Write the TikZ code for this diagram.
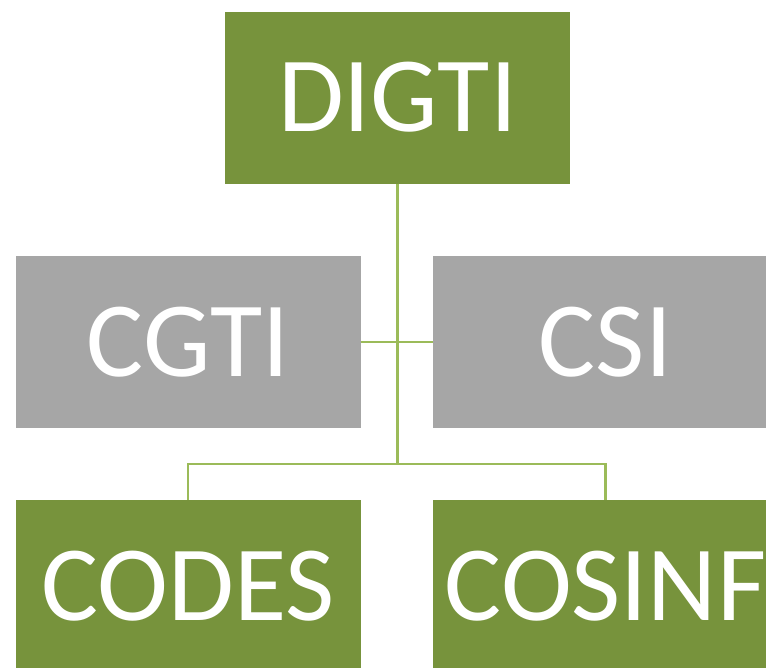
\documentclass[tikz,border=0pt]{standalone}
\usepackage{fontspec}
\setmainfont{Carlito}
\usetikzlibrary{positioning}
\definecolor{olivebox}{HTML}{77933C}
\definecolor{oliveline}{HTML}{9BBB59}
\definecolor{graybox}{HTML}{A6A6A6}
\tikzset{unit/.style={minimum width=345pt, minimum height=172pt, inner sep=0pt,
   text=white, font=\fontsize{107}{107}\selectfont},
 head/.style={unit, fill=olivebox},
 staff/.style={unit, fill=graybox},
 link/.style={draw=oliveline, line width=2.2pt},
 }

\begin{document}
\begin{tikzpicture}[x=1pt, y=1pt]
        \useasboundingbox (0,0) rectangle (766,-667);
        \clip (0,0) rectangle (766,-667);
        \node[head] (digti) at (397.5, -97.5) {DIGTI};
        \node[staff] (cgti) at (188, -342) {CGTI};
        \node[staff] (csi) at (605.5, -342) {CSI};
        \node[head] (codes) at (188, -586) {CODES};
        \node[head] (cosinf) at (605.5, -586) {COSINF};
        \coordinate (bar) at (397.5, -464);
        \draw[link] (digti.south) -- (bar);
        \draw[link] (cgti.east) -- (csi.west);
        \draw[link] (codes.north) |- (bar) -| (cosinf.north);
    \end{tikzpicture}
\end{document}
